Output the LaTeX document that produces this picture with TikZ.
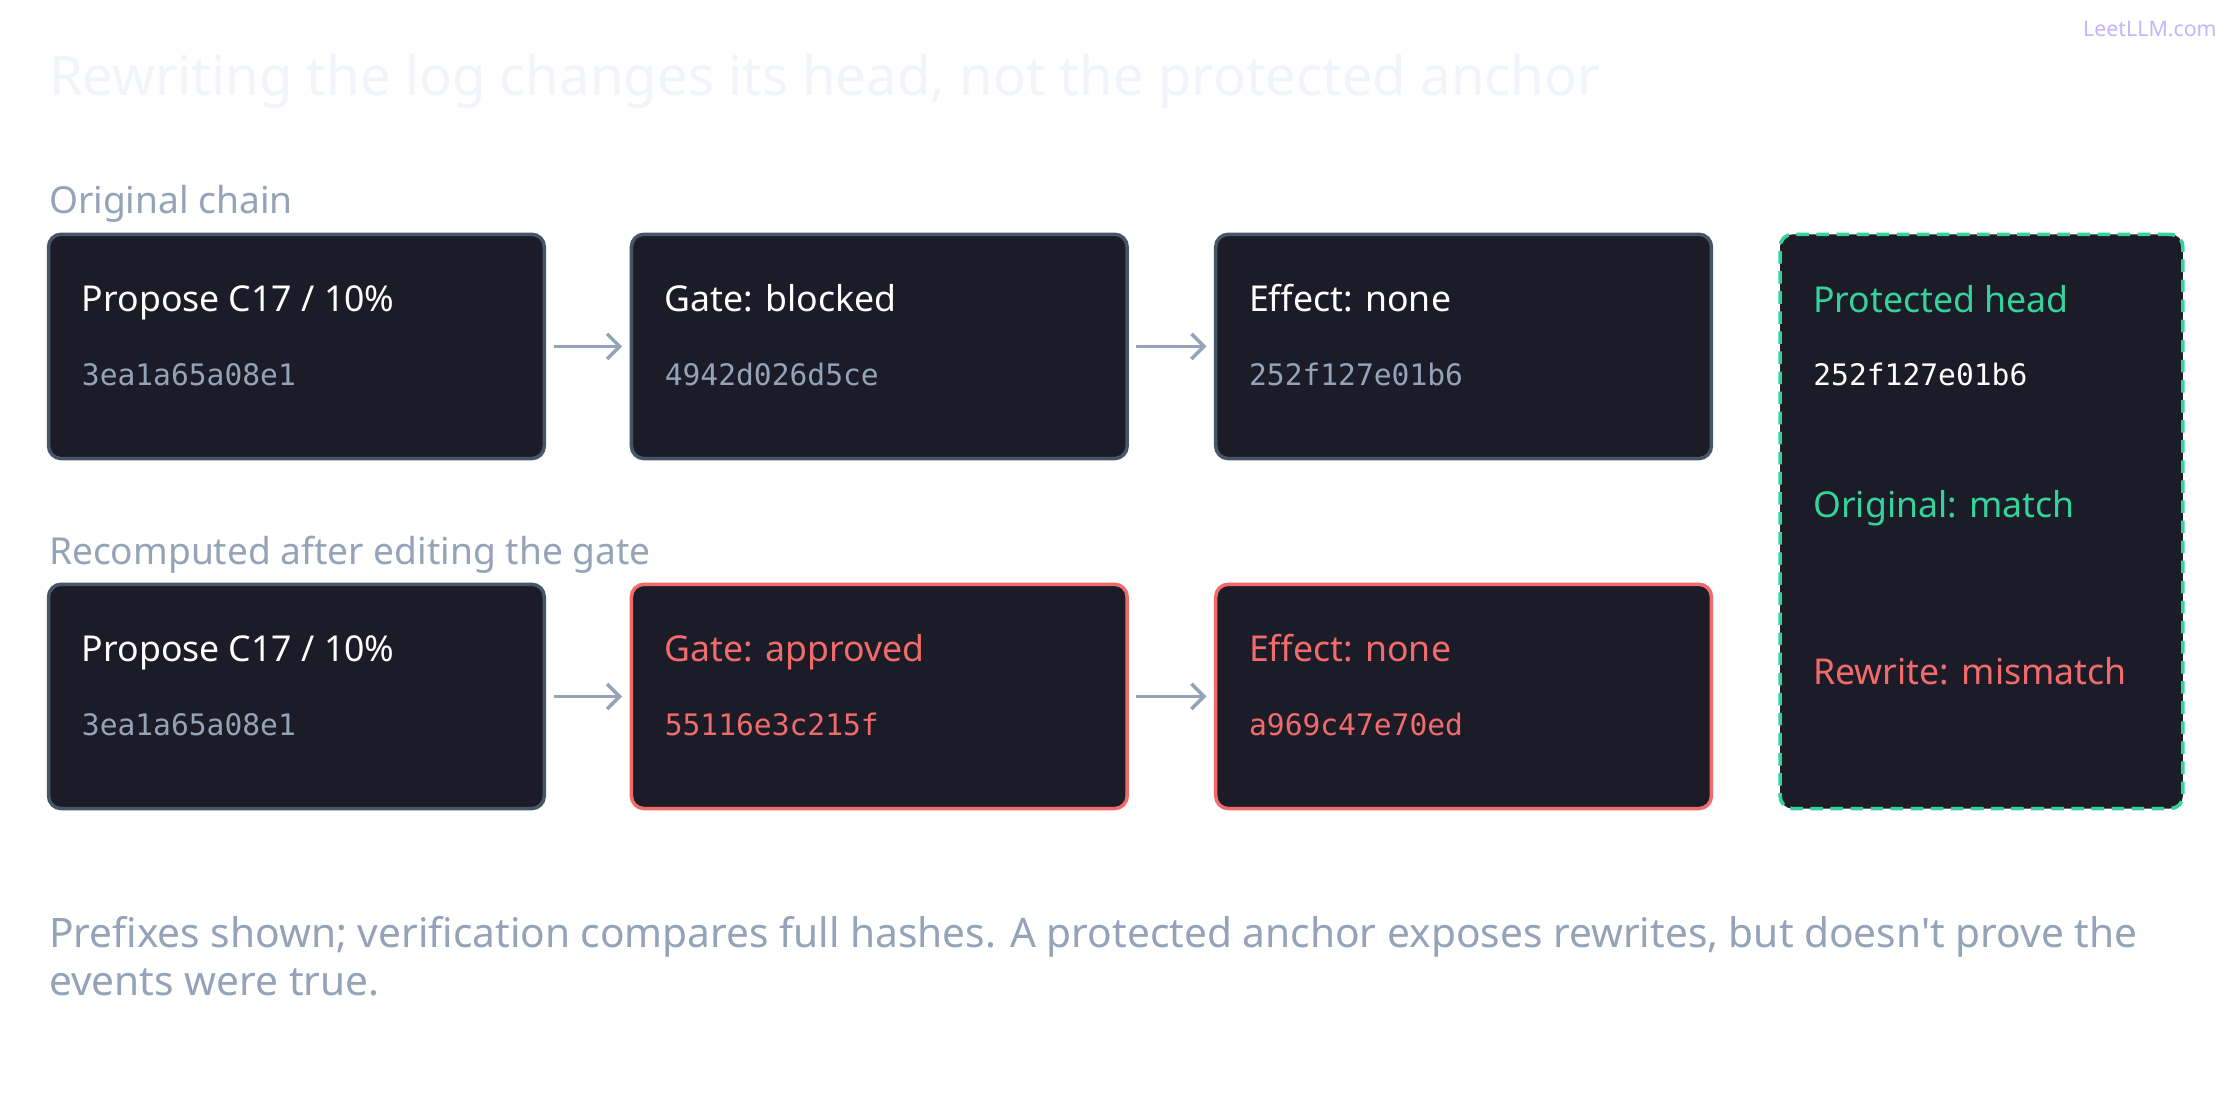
\documentclass[tikz,border=0pt]{standalone}
\usepackage{fontspec}
\setmainfont{Noto Sans}
\setmonofont{DejaVu Sans Mono}
\usetikzlibrary{positioning,arrows.meta}
\definecolor{boxbg}{HTML}{1C1C28}
\definecolor{boxline}{HTML}{475569}
\definecolor{redline}{HTML}{F26B6B}
\definecolor{greenline}{HTML}{34D399}
\definecolor{muted}{HTML}{94A3B8}
\definecolor{titlec}{HTML}{F1F5F9}
\definecolor{logoc}{HTML}{C4B5FD}
\tikzset{
  blk/.style={draw=boxline,line width=1.4pt,fill=boxbg,rounded corners=5pt,minimum width=347*0.02cm,minimum height=157*0.02cm},
  bad/.style={blk,draw=redline},
  lbl/.style={anchor=base west,inner sep=0pt,font=\fontsize{14.2}{17}\selectfont},
  hsh/.style={anchor=base west,inner sep=0pt,font=\ttfamily\fontsize{11.8}{14}\selectfont,text=muted},
  sec/.style={anchor=west,inner sep=0pt,text=muted,font=\fontsize{14.8}{17}\selectfont},
  link/.style={-{Straight Barb[length=5pt,width=10pt]},draw=muted,line width=1.4pt,shorten >=3pt,shorten <=3pt}
}
\begin{document}
\begin{tikzpicture}[x=0.02cm,y=-0.02cm]
  \useasboundingbox[fill=white] (0,0) rectangle (1568,784);
  \node[anchor=east,inner sep=0pt,text=logoc,font=\bfseries\fontsize{8.5}{10}\selectfont] (logo) at (1552,20) {LeetLLM.com};
  \node[anchor=west,inner sep=0pt,text=titlec,font=\fontsize{21.7}{25}\selectfont] (title) at (34,57) {Rewriting the log changes its head, not the protected anchor};
  % original chain
  \node[sec] (secA) at (34,143) {Original chain};
  \node[blk] (a1) at (207.5,242.5) {};
  \node[blk] (a2) at (615.5,242.5) {};
  \node[blk] (a3) at (1024.5,242.5) {};
  \node[lbl,text=white] at (57,218) {Propose C17 / 10\%};
  \node[hsh] at (57,270) {3ea1a65a08e1};
  \node[lbl,text=white] at (465,218) {Gate: blocked};
  \node[hsh] at (465,270) {4942d026d5ce};
  \node[lbl,text=white] at (874,218) {Effect: none};
  \node[hsh] at (874,270) {252f127e01b6};
  \draw[link] (a1) -- (a2);
  \draw[link] (a2) -- (a3);
  % recomputed chain
  \node[sec] (secB) at (34,388) {Recomputed after editing the gate};
  \node[blk] (b1) at (207.5,487.5) {};
  \node[bad] (b2) at (615.5,487.5) {};
  \node[bad] (b3) at (1024.5,487.5) {};
  \node[lbl,text=white] at (57,463) {Propose C17 / 10\%};
  \node[hsh] at (57,515) {3ea1a65a08e1};
  \node[lbl,text=redline] at (465,463) {Gate: approved};
  \node[hsh,text=redline] at (465,515) {55116e3c215f};
  \node[lbl,text=redline] at (874,463) {Effect: none};
  \node[hsh,text=redline] at (874,515) {a969c47e70ed};
  \draw[link] (b1) -- (b2);
  \draw[link] (b2) -- (b3);
  % anchor
  \node[blk,draw=greenline,dashed,dash pattern=on 5pt off 3pt,minimum width=282*0.02cm,minimum height=402*0.02cm] (anchor) at (1387,365) {};
  \node[lbl,text=greenline] at (1269,219) {Protected head};
  \node[hsh,text=white] at (1269,270) {252f127e01b6};
  \node[lbl,text=greenline] at (1269,362) {Original: match};
  \node[lbl,text=redline] at (1269,479) {Rewrite: mismatch};
  % footnote
  \node[anchor=north west,inner sep=0pt,text=muted,align=left,font=\fontsize{16.2}{19}\selectfont] (note) at (34,641) {Prefixes shown; verification compares full hashes. A protected anchor exposes rewrites, but doesn\textquotesingle t prove the\\events were true.};
\end{tikzpicture}
\end{document}
